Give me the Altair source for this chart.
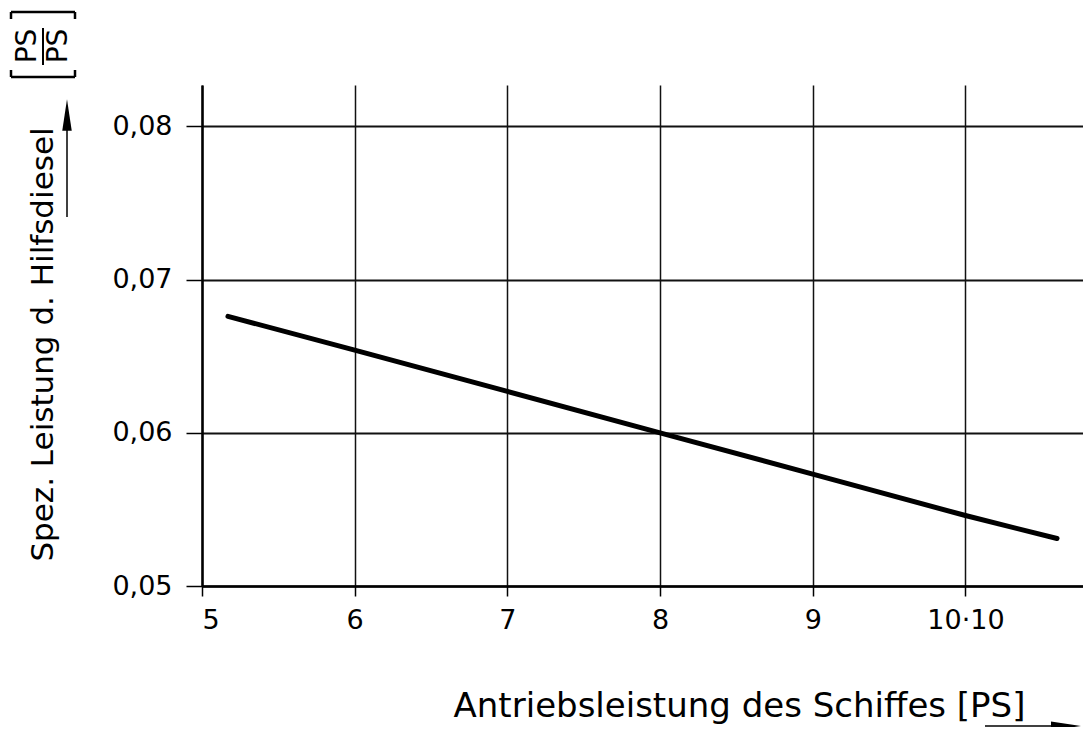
import altair as alt
import pandas as pd

# Data (x in 10^4 PS)
power = [5.17, 6.0, 7.0, 8.0, 9.0, 10.0, 10.6]
spec_aux = [0.0676, 0.0654, 0.0627, 0.0600, 0.0573, 0.0546, 0.0531]
x_ticks = [5, 6, 7, 8, 9, 10]
y_ticks = [0.05, 0.06, 0.07, 0.08]

df = pd.DataFrame({"x": power, "y": spec_aux})
one = pd.DataFrame({"a": [0]})

FONT = "DejaVu Sans"
W, H = 881, 501

x_enc = alt.X(
    "x:Q",
    scale=alt.Scale(domain=[5, 10.77], nice=False, zero=False),
    axis=alt.Axis(
        values=x_ticks,
        labelExpr="datum.value == 10 ? '10·10' : format(datum.value, 'd')",
        title="Antriebsleistung des Schiffes [PS]",
        titleX=537,
        titleY=130,
        titleAlign="center",
        titleBaseline="alphabetic",
        titleFontSize=34,
        titleFontWeight="normal",
        titleFont=FONT,
        titleColor="#000",
        labelFont=FONT,
        labelFontSize=27,
        labelColor="#000",
        labelPadding=11,
        labelBaseline="top",
        tickSize=10,
        tickColor="#000",
        tickWidth=1.5,
        domainColor="#000",
        domainWidth=2.5,
        grid=True,
        gridColor="#111",
        gridWidth=1.5,
    ),
)

y_enc = alt.Y(
    "y:Q",
    scale=alt.Scale(domain=[0.05, 0.0827], nice=False, zero=False),
    axis=alt.Axis(
        values=y_ticks,
        labelExpr="replace(format(datum.value, '.2f'), '.', ',')",
        title="Spez. Leistung d. Hilfsdiesel",
        titleX=-150,
        titleY=259,
        titleAngle=270,
        titleAlign="center",
        titleBaseline="alphabetic",
        titleFontSize=31,
        titleFontWeight="normal",
        titleFont=FONT,
        titleColor="#000",
        labelFont=FONT,
        labelFontSize=27,
        labelColor="#000",
        labelPadding=14,
        tickSize=16,
        tickColor="#000",
        tickWidth=1.5,
        domainColor="#000",
        domainWidth=2.5,
        grid=True,
        gridColor="#111",
        gridWidth=1.8,
    ),
)

line = alt.Chart(df).mark_line(color="#000", strokeWidth=5, strokeCap="round").encode(
    x=x_enc, y=y_enc
)

base = alt.Chart(one)

# y-axis arrow
y_arrow_line = base.mark_rule(color="#000", strokeWidth=1.5).encode(
    x=alt.value(-135), y=alt.value(45), y2=alt.value(132)
)
y_arrow_head = base.mark_point(
    shape="M0,-1L0.3,1L-0.3,1Z", filled=True, color="#000", opacity=1, size=1000
).encode(x=alt.value(-135), y=alt.value(30))

# x-axis arrow
x_arrow_line = base.mark_rule(color="#000", strokeWidth=1.5).encode(
    x=alt.value(783), x2=alt.value(855), y=alt.value(641)
)
x_arrow_head = base.mark_point(
    shape="M1,0L-1,0.3L-1,-0.3Z", filled=True, color="#000", opacity=1, size=900
).encode(x=alt.value(864), y=alt.value(641))

# unit fraction [PS/PS]
ps_top = base.mark_text(
    text="PS", angle=270, font=FONT, fontSize=28, color="#000", align="center", baseline="middle"
).encode(x=alt.value(-174), y=alt.value(-39))
ps_bottom = base.mark_text(
    text="PS", angle=270, font=FONT, fontSize=28, color="#000", align="center", baseline="middle"
).encode(x=alt.value(-143), y=alt.value(-39))
frac_bar = base.mark_rule(color="#000", strokeWidth=2).encode(
    x=alt.value(-159), y=alt.value(-57), y2=alt.value(-20)
)
br_top = base.mark_rule(color="#000", strokeWidth=2.5).encode(
    x=alt.value(-191), x2=alt.value(-127), y=alt.value(-73)
)
br_top_l = base.mark_rule(color="#000", strokeWidth=2.5).encode(
    x=alt.value(-191), y=alt.value(-73), y2=alt.value(-66)
)
br_top_r = base.mark_rule(color="#000", strokeWidth=2.5).encode(
    x=alt.value(-127), y=alt.value(-73), y2=alt.value(-66)
)
br_bot = base.mark_rule(color="#000", strokeWidth=2.5).encode(
    x=alt.value(-191), x2=alt.value(-127), y=alt.value(-8)
)
br_bot_l = base.mark_rule(color="#000", strokeWidth=2.5).encode(
    x=alt.value(-191), y=alt.value(-15), y2=alt.value(-8)
)
br_bot_r = base.mark_rule(color="#000", strokeWidth=2.5).encode(
    x=alt.value(-127), y=alt.value(-15), y2=alt.value(-8)
)

chart = alt.layer(
    line,
    y_arrow_line, y_arrow_head,
    x_arrow_line, x_arrow_head,
    ps_top, ps_bottom, frac_bar,
    br_top, br_top_l, br_top_r, br_bot, br_bot_l, br_bot_r,
).properties(
    width=W,
    height=H,
    autosize=alt.AutoSizeParams(type="none"),
    padding={"left": 194, "top": 77, "right": 0, "bottom": 141},
    background="white",
).configure_view(stroke=None)

chart.save("out.html", embed_options={"renderer": "svg", "actions": False})
